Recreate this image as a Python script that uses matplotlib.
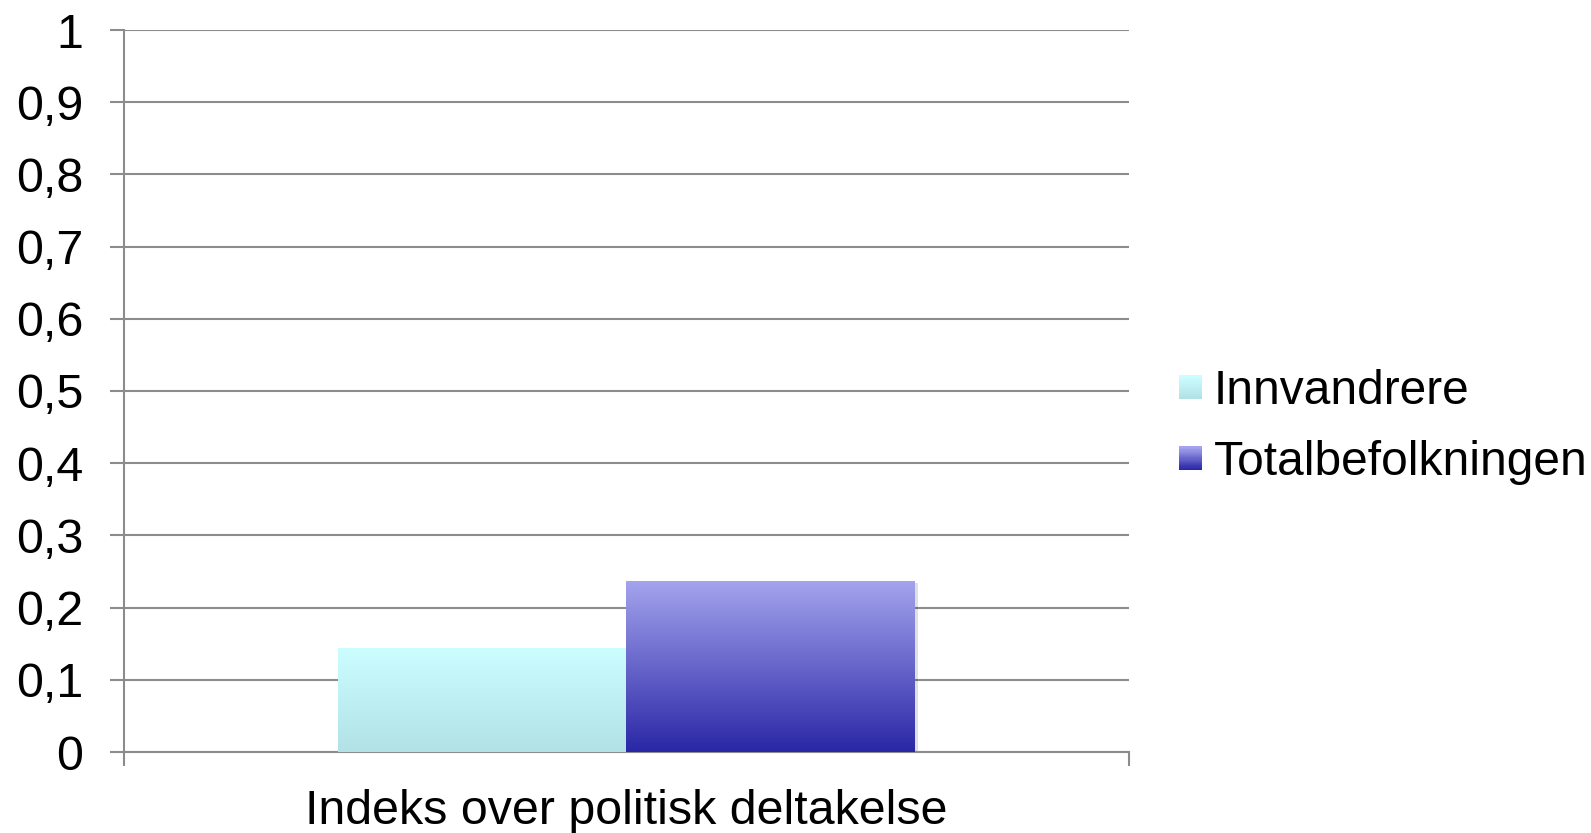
import numpy as np
import matplotlib.pyplot as plt
from matplotlib.patches import Rectangle
from matplotlib.legend_handler import HandlerBase
from matplotlib.colors import LinearSegmentedColormap

plt.rcParams['font.family'] = ['Liberation Sans', 'DejaVu Sans']

category = 'Indeks over politisk deltakelse'
series = ['Innvandrere', 'Totalbefolkningen']
values = [0.144, 0.237]
# gradient colours, top -> bottom
grads = [('#ccfdff', '#b2e2e6'), ('#a4a4ee', '#2a27a6')]
yticks = [0, 0.1, 0.2, 0.3, 0.4, 0.5, 0.6, 0.7, 0.8, 0.9, 1]
ylabels = ['0', '0,1', '0,2', '0,3', '0,4', '0,5', '0,6', '0,7', '0,8', '0,9', '1']

fig = plt.figure(figsize=(15.91, 8.33), dpi=100)
ax = fig.add_axes([123.5 / 1591, 1 - 752 / 833, (1129 - 123.5) / 1591, 722 / 833])

w = 0.2866
xs = [-w / 2, w / 2]
for x, v, (c1, c2) in zip(xs, values, grads):
    # soft shadow
    ax.add_patch(Rectangle((x - w / 2 + 0.004, 0), w, v - 0.003, color='#000000',
                           alpha=0.12, zorder=2.5, lw=0))
    bar = ax.bar(x, v, w, color='none', zorder=3)[0]
    cmap = LinearSegmentedColormap.from_list('g', [c2, c1])
    img = ax.imshow(np.linspace(0, 1, 256).reshape(-1, 1), cmap=cmap, origin='lower',
                    extent=[x - w / 2, x + w / 2, 0, v], aspect='auto', zorder=3)
    img.set_clip_path(bar)

ax.set_xlim(-0.5, 0.5)
ax.set_ylim(0, 1)
ax.set_yticks(yticks)
ax.set_yticklabels(ylabels, fontsize=34.8)
ax.yaxis.grid(True, color='#8c8c8c', lw=1.5)
ax.set_axisbelow(True)
ax.tick_params(axis='y', length=10, width=1.5, color='#8c8c8c', pad=19)

ax.set_xticks([0])
ax.set_xticklabels([category], fontsize=34.8)
ax.set_xticks([-0.5, 0.5], minor=True)
ax.tick_params(axis='x', which='major', length=0, pad=27)
ax.tick_params(axis='x', which='minor', length=10, width=1.5, color='#8c8c8c')

for s in ['top', 'right']:
    ax.spines[s].set_visible(False)
for s in ['left', 'bottom']:
    ax.spines[s].set_color('#8c8c8c')
    ax.spines[s].set_linewidth(1.5)


class GradHandler(HandlerBase):
    def __init__(self, c1, c2):
        super().__init__()
        self.c1, self.c2 = c1, c2

    def create_artists(self, legend, orig, xd, yd, width, height, fontsize, trans):
        n = 20
        cmap = LinearSegmentedColormap.from_list('g', [self.c2, self.c1])
        side = width
        y0 = -yd + (height - side) / 2
        out = []
        for i in range(n):
            r = Rectangle((-xd, y0 + side * i / n), side, side / n + 0.3,
                          color=cmap(i / (n - 1)), lw=0, transform=trans)
            out.append(r)
        return out


handles = [Rectangle((0, 0), 1, 1) for _ in series]
leg = fig.legend(handles, series, loc='center left', bbox_to_anchor=(1179 / 1591, 1 - 427 / 833),
                 frameon=False, fontsize=34.5, handlelength=0.48, handletextpad=0.25,
                 labelspacing=0.55, borderpad=0, borderaxespad=0,
                 handler_map={h: GradHandler(*g) for h, g in zip(handles, grads)})

fig.savefig('out.png', dpi=100)
